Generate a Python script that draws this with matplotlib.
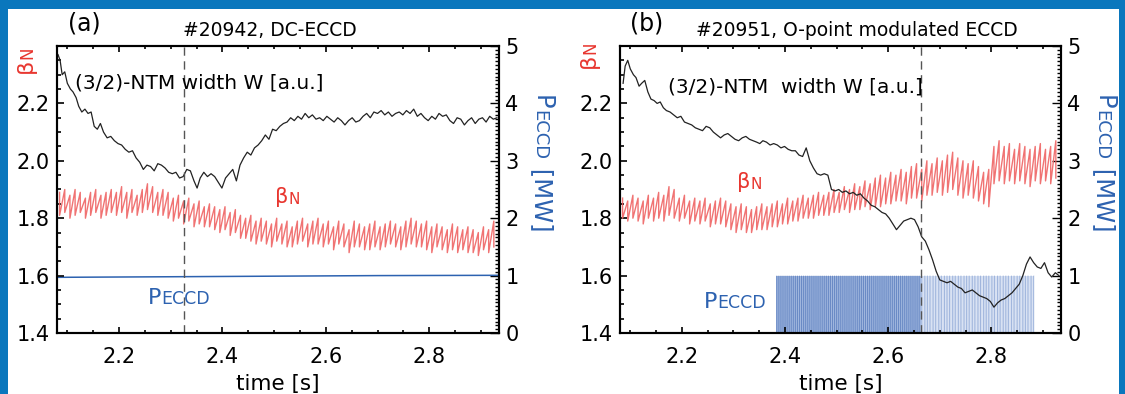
import matplotlib
matplotlib.use("Agg")
import matplotlib.pyplot as plt
from matplotlib.ticker import MultipleLocator, FixedLocator, FormatStrFormatter
from matplotlib.patches import Rectangle
from matplotlib.text import Annotation

# ---------------- data ----------------
xlim = (2.08, 2.935)
bn_lim = (1.4, 2.4)
p_lim = (0.0, 5.0)
x_ticks = [2.2, 2.4, 2.6, 2.8]
bn_ticks = [1.4, 1.6, 1.8, 2.0, 2.2]
p_ticks = [0, 1, 2, 3, 4, 5]

# time of the sawtooth crashes in beta_N (shared by both shots)
bn_t = [2.085, 2.095, 2.105, 2.115, 2.125, 2.135, 2.145, 2.155, 2.165, 2.175,
        2.185, 2.195, 2.205, 2.215, 2.225, 2.235, 2.245, 2.255, 2.265, 2.275,
        2.285, 2.295, 2.305, 2.315, 2.325, 2.335, 2.345, 2.355, 2.365, 2.375,
        2.385, 2.395, 2.405, 2.415, 2.425, 2.435, 2.445, 2.455, 2.465, 2.475,
        2.485, 2.495, 2.505, 2.515, 2.525, 2.535, 2.545, 2.555, 2.565, 2.575,
        2.585, 2.595, 2.605, 2.615, 2.625, 2.635, 2.645, 2.655, 2.665, 2.675,
        2.685, 2.695, 2.705, 2.715, 2.725, 2.735, 2.745, 2.755, 2.765, 2.775,
        2.785, 2.795, 2.805, 2.815, 2.825, 2.835, 2.845, 2.855, 2.865, 2.875,
        2.885, 2.895, 2.905, 2.915, 2.925]

# shot #20942 (DC-ECCD): beta_N crest / trough values
bn_a_hi = [1.89, 1.90, 1.88, 1.90, 1.89, 1.87, 1.89, 1.90, 1.88, 1.89,
           1.90, 1.89, 1.91, 1.89, 1.90, 1.88, 1.90, 1.92, 1.91, 1.89,
           1.90, 1.89, 1.87, 1.88, 1.86, 1.87, 1.85, 1.86, 1.84, 1.85,
           1.84, 1.83, 1.84, 1.82, 1.83, 1.81, 1.80, 1.81, 1.79, 1.80,
           1.79, 1.78, 1.80, 1.78, 1.79, 1.77, 1.79, 1.80, 1.78, 1.79,
           1.80, 1.78, 1.79, 1.77, 1.79, 1.78, 1.76, 1.79, 1.78, 1.77,
           1.78, 1.79, 1.77, 1.78, 1.79, 1.78, 1.77, 1.79, 1.80, 1.79,
           1.78, 1.79, 1.77, 1.78, 1.77, 1.76, 1.78, 1.77, 1.76, 1.77,
           1.76, 1.75, 1.77, 1.76, 1.79]
bn_a_lo = [1.81, 1.82, 1.80, 1.81, 1.82, 1.80, 1.81, 1.82, 1.80, 1.81,
           1.82, 1.81, 1.82, 1.80, 1.82, 1.81, 1.82, 1.83, 1.82, 1.81,
           1.81, 1.80, 1.79, 1.80, 1.78, 1.79, 1.77, 1.78, 1.77, 1.77,
           1.76, 1.75, 1.76, 1.74, 1.75, 1.73, 1.73, 1.72, 1.71, 1.72,
           1.71, 1.70, 1.72, 1.71, 1.70, 1.70, 1.71, 1.72, 1.70, 1.71,
           1.71, 1.70, 1.71, 1.69, 1.71, 1.70, 1.68, 1.70, 1.70, 1.69,
           1.69, 1.70, 1.69, 1.70, 1.71, 1.70, 1.69, 1.70, 1.71, 1.70,
           1.70, 1.69, 1.68, 1.70, 1.69, 1.68, 1.69, 1.68, 1.69, 1.68,
           1.68, 1.67, 1.69, 1.68, 1.70]

# shot #20951 (O-point modulated ECCD): beta_N crest / trough values
bn_b_hi = [1.87, 1.86, 1.88, 1.87, 1.86, 1.88, 1.87, 1.89, 1.88, 1.91,
           1.90, 1.87, 1.88, 1.86, 1.87, 1.86, 1.87, 1.85, 1.86, 1.87,
           1.86, 1.85, 1.84, 1.85, 1.84, 1.83, 1.84, 1.85, 1.84, 1.85,
           1.86, 1.85, 1.87, 1.86, 1.87, 1.88, 1.87, 1.88, 1.89, 1.88,
           1.89, 1.90, 1.89, 1.91, 1.90, 1.92, 1.91, 1.93, 1.92, 1.94,
           1.95, 1.94, 1.96, 1.95, 1.97, 1.96, 1.98, 1.99, 1.97, 2.00,
           1.99, 2.01, 2.00, 2.02, 2.03, 2.01, 2.00, 1.99, 2.00, 1.98,
           1.96, 1.97, 2.05, 2.07, 2.05, 2.06, 2.04, 2.06, 2.05, 2.04,
           2.05, 2.06, 2.04, 2.05, 2.07]
bn_b_lo = [1.80, 1.79, 1.80, 1.79, 1.78, 1.80, 1.79, 1.80, 1.79, 1.81,
           1.80, 1.79, 1.80, 1.78, 1.79, 1.78, 1.79, 1.77, 1.78, 1.78,
           1.77, 1.76, 1.75, 1.76, 1.75, 1.75, 1.76, 1.76, 1.76, 1.77,
           1.77, 1.78, 1.78, 1.79, 1.79, 1.80, 1.80, 1.80, 1.81, 1.81,
           1.81, 1.82, 1.82, 1.83, 1.82, 1.83, 1.83, 1.84, 1.83, 1.84,
           1.84, 1.85, 1.85, 1.86, 1.86, 1.85, 1.87, 1.87, 1.86, 1.88,
           1.88, 1.89, 1.88, 1.89, 1.90, 1.88, 1.87, 1.88, 1.87, 1.86,
           1.85, 1.84, 1.92, 1.93, 1.92, 1.93, 1.92, 1.93, 1.92, 1.91,
           1.93, 1.92, 1.93, 1.92, 1.94]

# (3/2)-NTM island width W [a.u.], shown on the beta_N scale
w_a_t = [2.082, 2.086, 2.090, 2.095, 2.100, 2.106, 2.111, 2.117, 2.122, 2.128,
         2.134, 2.140, 2.146, 2.152, 2.158, 2.164, 2.170, 2.177, 2.184, 2.191,
         2.198, 2.205, 2.212, 2.219, 2.226, 2.233, 2.240, 2.247, 2.254, 2.261,
         2.268, 2.275, 2.282, 2.289, 2.296, 2.303, 2.310, 2.317, 2.324, 2.331,
         2.338, 2.345, 2.351, 2.357, 2.364, 2.371, 2.378, 2.385, 2.392, 2.399,
         2.406, 2.413, 2.420, 2.427, 2.434, 2.441, 2.448, 2.455, 2.462, 2.469,
         2.476, 2.483, 2.490, 2.497, 2.504, 2.511, 2.518, 2.525, 2.532, 2.539,
         2.546, 2.553, 2.560, 2.567, 2.574, 2.581, 2.588, 2.595, 2.602, 2.609,
         2.616, 2.623, 2.630, 2.637, 2.644, 2.651, 2.658, 2.665, 2.672, 2.679,
         2.686, 2.693, 2.700, 2.707, 2.714, 2.721, 2.728, 2.735, 2.742, 2.749,
         2.756, 2.763, 2.770, 2.777, 2.784, 2.791, 2.798, 2.805, 2.812, 2.819,
         2.826, 2.833, 2.840, 2.847, 2.854, 2.861, 2.868, 2.875, 2.882, 2.889,
         2.896, 2.903, 2.910, 2.917, 2.924, 2.931]
w_a = [2.37, 2.35, 2.30, 2.31, 2.27, 2.25, 2.24, 2.22, 2.19, 2.17,
       2.18, 2.165, 2.17, 2.12, 2.11, 2.13, 2.10, 2.08, 2.085, 2.07,
       2.06, 2.055, 2.04, 2.03, 2.035, 2.01, 1.995, 1.97, 1.985, 1.98,
       1.965, 1.99, 1.985, 1.975, 1.96, 1.955, 1.96, 1.94, 1.945, 1.97,
       1.965, 1.93, 1.905, 1.94, 1.96, 1.945, 1.955, 1.945, 1.925, 1.905,
       1.94, 1.955, 1.97, 1.93, 1.985, 2.01, 2.03, 2.02, 2.045, 2.055,
       2.07, 2.09, 2.075, 2.11, 2.105, 2.12, 2.13, 2.135, 2.15, 2.14,
       2.155, 2.145, 2.165, 2.15, 2.16, 2.145, 2.15, 2.14, 2.155, 2.145,
       2.135, 2.15, 2.14, 2.125, 2.14, 2.15, 2.135, 2.14, 2.155, 2.165,
       2.15, 2.17, 2.165, 2.175, 2.16, 2.17, 2.155, 2.165, 2.17, 2.16,
       2.175, 2.165, 2.18, 2.155, 2.165, 2.15, 2.14, 2.155, 2.145, 2.165,
       2.155, 2.16, 2.14, 2.13, 2.15, 2.145, 2.125, 2.14, 2.15, 2.13,
       2.145, 2.15, 2.135, 2.155, 2.145, 2.15]

w_b_t = [2.086, 2.090, 2.095, 2.100, 2.106, 2.111, 2.117, 2.122, 2.128,
         2.134, 2.140, 2.146, 2.152, 2.158, 2.164, 2.170, 2.177, 2.184, 2.191,
         2.198, 2.205, 2.212, 2.219, 2.226, 2.233, 2.240, 2.247, 2.254, 2.261,
         2.268, 2.275, 2.282, 2.289, 2.296, 2.303, 2.310, 2.317, 2.324, 2.331,
         2.338, 2.345, 2.351, 2.357, 2.364, 2.371, 2.378, 2.385, 2.392, 2.399,
         2.406, 2.413, 2.420, 2.427, 2.434, 2.441, 2.448, 2.455, 2.462, 2.469,
         2.476, 2.483, 2.490, 2.497, 2.504, 2.511, 2.518, 2.525, 2.532, 2.539,
         2.546, 2.553, 2.560, 2.567, 2.574, 2.581, 2.588, 2.595, 2.602, 2.609,
         2.616, 2.623, 2.630, 2.637, 2.644, 2.651, 2.658, 2.665, 2.672, 2.679,
         2.686, 2.693, 2.700, 2.707, 2.714, 2.721, 2.728, 2.735, 2.742, 2.749,
         2.756, 2.763, 2.770, 2.777, 2.784, 2.791, 2.798, 2.805, 2.812, 2.819,
         2.826, 2.833, 2.840, 2.847, 2.854, 2.861, 2.868, 2.875, 2.882, 2.889,
         2.896, 2.903, 2.910, 2.917, 2.924, 2.931]
w_b = [2.27, 2.33, 2.35, 2.32, 2.30, 2.29, 2.26, 2.27, 2.28,
       2.24, 2.215, 2.21, 2.20, 2.205, 2.185, 2.175, 2.17, 2.16, 2.15,
       2.155, 2.135, 2.13, 2.125, 2.115, 2.11, 2.105, 2.12, 2.115, 2.10,
       2.09, 2.08, 2.09, 2.095, 2.085, 2.075, 2.07, 2.08, 2.085, 2.075,
       2.07, 2.065, 2.06, 2.07, 2.065, 2.055, 2.06, 2.055, 2.045, 2.05,
       2.04, 2.035, 2.035, 2.02, 2.015, 2.045, 2.00, 1.975, 1.955, 1.95,
       1.955, 1.95, 1.90, 1.895, 1.90, 1.89, 1.895, 1.885, 1.89, 1.88,
       1.885, 1.87, 1.86, 1.845, 1.84, 1.83, 1.82, 1.815, 1.80, 1.78,
       1.76, 1.775, 1.79, 1.795, 1.80, 1.795, 1.77, 1.735, 1.72, 1.69,
       1.655, 1.615, 1.585, 1.58, 1.575, 1.58, 1.57, 1.56, 1.555, 1.54,
       1.545, 1.55, 1.54, 1.53, 1.525, 1.52, 1.51, 1.49, 1.505, 1.515,
       1.52, 1.53, 1.54, 1.555, 1.57, 1.60, 1.64, 1.665, 1.645, 1.63,
       1.625, 1.645, 1.61, 1.595, 1.61, 1.60]

# ECCD power [MW]
p_a_t = [2.08, 2.30, 2.50, 2.70, 2.935]
p_a = [0.97, 0.98, 0.99, 1.00, 1.005]
p_on, p_off = 1.0, 0.0
mod_start, mod_switch, mod_end = 2.382, 2.663, 2.882
pulse_dense = [2.384, 2.388, 2.392, 2.396, 2.400, 2.404, 2.408, 2.412, 2.416, 2.420,
               2.424, 2.428, 2.432, 2.436, 2.440, 2.444, 2.448, 2.452, 2.456, 2.460,
               2.464, 2.468, 2.472, 2.476, 2.480, 2.484, 2.488, 2.492, 2.496, 2.500,
               2.504, 2.508, 2.512, 2.516, 2.520, 2.524, 2.528, 2.532, 2.536, 2.540,
               2.544, 2.548, 2.552, 2.556, 2.560, 2.564, 2.568, 2.572, 2.576, 2.580,
               2.584, 2.588, 2.592, 2.596, 2.600, 2.604, 2.608, 2.612, 2.616, 2.620,
               2.624, 2.628, 2.632, 2.636, 2.640, 2.644, 2.648, 2.652, 2.656, 2.660]
pulse_sparse = [2.665, 2.671, 2.676, 2.681, 2.687, 2.692, 2.698, 2.703, 2.709, 2.714,
                2.719, 2.725, 2.730, 2.736, 2.741, 2.747, 2.752, 2.757, 2.763, 2.768,
                2.774, 2.779, 2.785, 2.790, 2.795, 2.801, 2.806, 2.812, 2.817, 2.823,
                2.828, 2.833, 2.839, 2.844, 2.850, 2.855, 2.861, 2.866, 2.871, 2.877,
                2.882]

t_mark_a = 2.325
t_mark_b = 2.663

titles = ["#20942, DC-ECCD", "#20951, O-point modulated ECCD"]
panel_tags = ["(a)", "(b)"]
ntm_labels = ["(3/2)-NTM width W [a.u.]", "(3/2)-NTM  width W [a.u.]"]

# ---------------- style ----------------
BORDER = "#0a77bd"
RED = "#e8362f"
RED_LINE = "#ef6464"
BLUE = "#2d62b0"
W, H = 1125, 394
plt.rcParams["font.family"] = ["DejaVu Sans"]

fig = plt.figure(figsize=(W / 100, H / 100), dpi=100, facecolor=BORDER)
fig.add_artist(Rectangle((8 / W, 0), 1111 / W, 385 / H, transform=fig.transFigure,
                         facecolor="white", edgecolor="none", zorder=-10))


def fx(x):
    return x / W


def fy(y):
    return 1 - y / H


def combo(x, y, parts, color, rotation=0, ha="left", va="center"):
    first = fig.text(fx(x), fy(y), parts[0][0], fontsize=parts[0][1], color=color,
                     rotation=rotation, ha=ha, va=va)
    prev = first
    for s, fs in parts[1:]:
        if rotation == 0:
            xy, h, v = (1, 0), "left", "bottom"
        elif rotation == -90:
            xy, h, v = (0, 0), "left", "top"
        else:
            xy, h, v = (1, 1), "right", "bottom"
        ann = Annotation(s, xy=xy, xycoords=prev, ha=h, va=v, fontsize=fs,
                         color=color, rotation=rotation)
        fig.add_artist(ann)
        prev = ann
    return first


def sawtooth(ts, hi, lo):
    xs, ys = [], []
    for t, h, l in zip(ts, hi, lo):
        xs += [t, t]
        ys += [h, l]
    return xs, ys


def make_panel(left, right):
    ax = fig.add_axes([fx(left), fy(333), (right - left) / W, (333 - 46) / H])
    tw = ax.twinx()
    ax.set_zorder(tw.get_zorder() + 1)
    ax.patch.set_visible(False)
    tw.patch.set_visible(False)
    ax.set_xlim(*xlim)
    ax.set_ylim(*bn_lim)
    tw.set_ylim(*p_lim)
    for a in (ax, tw):
        for sp in a.spines.values():
            sp.set_linewidth(1.5)
    ax.xaxis.set_major_locator(FixedLocator(x_ticks))
    ax.xaxis.set_minor_locator(MultipleLocator(0.05))
    ax.xaxis.set_major_formatter(FormatStrFormatter("%.1f"))
    ax.yaxis.set_major_locator(FixedLocator(bn_ticks))
    ax.yaxis.set_minor_locator(MultipleLocator(0.05))
    ax.yaxis.set_major_formatter(FormatStrFormatter("%.1f"))
    tw.yaxis.set_major_locator(FixedLocator(p_ticks))
    tw.yaxis.set_minor_locator(MultipleLocator(1 / 15))
    tw.yaxis.set_major_formatter(FormatStrFormatter("%d"))
    ax.tick_params(axis="x", which="both", direction="in", top=True, bottom=True,
                   labelsize=15, pad=10, width=1.2)
    ax.tick_params(axis="x", which="major", length=4)
    ax.tick_params(axis="x", which="minor", length=2.5)
    ax.tick_params(axis="y", which="both", direction="in", left=True, right=False,
                   labelsize=15, pad=5, width=1.2)
    ax.tick_params(axis="y", which="major", length=5)
    ax.tick_params(axis="y", which="minor", length=3)
    tw.tick_params(axis="y", which="both", direction="in", right=True, left=False,
                   labelsize=15, pad=4.5, width=1.0)
    tw.tick_params(axis="y", which="major", length=6.5)
    tw.tick_params(axis="y", which="minor", length=3)
    ax.set_xlabel("time [s]", fontsize=15.5, labelpad=5)
    return ax, tw


# ---------------- panel (a) ----------------
axA, twA = make_panel(57, 499)
xs, ys = sawtooth(bn_t, bn_a_hi, bn_a_lo)
axA.plot(xs, ys, color=RED_LINE, lw=1.0, alpha=0.9)
axA.plot(w_a_t, w_a, color="#222222", lw=0.9)
axA.axvline(t_mark_a, color="#555555", lw=1.0, ls=(0, (6, 4)))
twA.plot(p_a_t, p_a, color=BLUE, lw=1.1)

# ---------------- panel (b) ----------------
axB, twB = make_panel(620, 1061)
xs, ys = sawtooth(bn_t, bn_b_hi, bn_b_lo)
axB.plot(xs, ys, color=RED_LINE, lw=1.0, alpha=0.9)
axB.plot(w_b_t, w_b, color="#222222", lw=0.9)
axB.axvline(t_mark_b, color="#555555", lw=1.0, ls=(0, (6, 4)))
twB.fill_between([mod_start, mod_switch], p_off, p_on, color="#a3b9e0", lw=0)
twB.fill_between([mod_switch, mod_end], p_off, p_on, color="#d9e2f3", lw=0)
twB.vlines(pulse_dense, p_off, p_on, color="#2552a5", lw=0.8, alpha=0.45, snap=False)
twB.vlines(pulse_sparse, p_off, p_on, color="#6a8cc8", lw=0.8, alpha=0.5, snap=False)

# ---------------- texts ----------------
for (tag, tx), (title, ttx) in zip([("(a)", 84), ("(b)", 647)],
                                   [(titles[0], 270), (titles[1], 857)]):
    fig.text(fx(tx), fy(24), tag, fontsize=17, ha="center", va="center")
    fig.text(fx(ttx), fy(30), title, fontsize=13.5, ha="center", va="center")

fig.text(fx(75), fy(83), ntm_labels[0], fontsize=14.5, ha="left", va="center")
fig.text(fx(668), fy(87), ntm_labels[1], fontsize=14.5, ha="left", va="center")

combo(275, 197, [("β", 15), ("N", 11)], RED)
combo(737, 182, [("β", 15), ("N", 11)], RED)
combo(148, 298, [("P", 16), ("ECCD", 12.5)], BLUE)
combo(704, 302, [("P", 16), ("ECCD", 12.5)], BLUE)

# axis labels
combo(36, 73, [("β", 16), ("N", 12)], RED, rotation=90, ha="right", va="bottom")
combo(599, 68, [("β", 16), ("N", 12)], RED, rotation=90, ha="right", va="bottom")
combo(530, 95, [("P", 17.5), ("ECCD", 13), (" [MW]", 17.5)], BLUE, rotation=-90,
      ha="left", va="top")
combo(1092, 95, [("P", 17.5), ("ECCD", 13), (" [MW]", 17.5)], BLUE, rotation=-90,
      ha="left", va="top")

fig.savefig("out.png", dpi=100, facecolor=BORDER)
